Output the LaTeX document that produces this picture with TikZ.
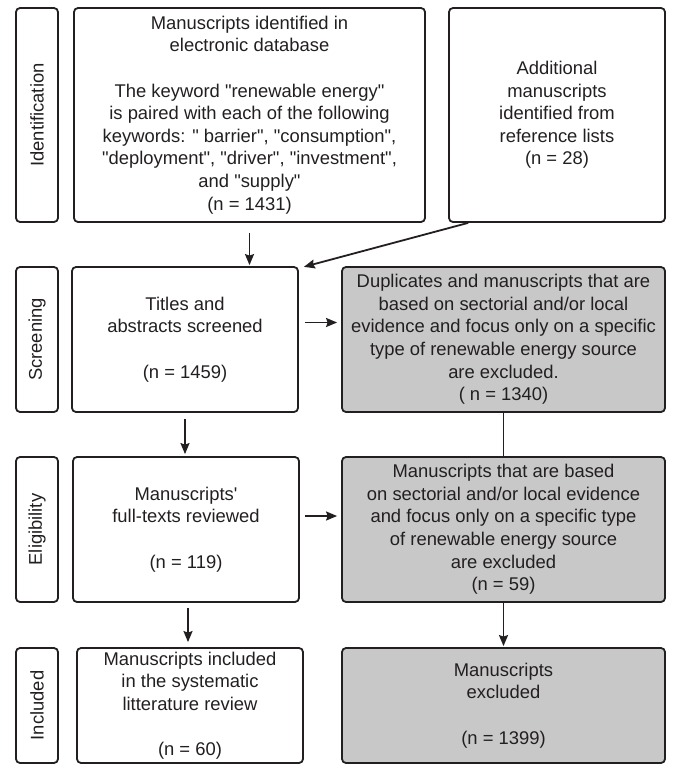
\documentclass[tikz,border=0pt]{standalone}
\usepackage{fontspec}
\setmainfont{Liberation Sans}
\usetikzlibrary{arrows.meta,calc}
\definecolor{exgray}{RGB}{200,200,200}
\definecolor{ink}{RGB}{35,31,32}
\newcommand{\qd}{\textquotedbl}
\begin{document}
\begin{tikzpicture}[x=1pt,y=-1pt,
  box/.style={draw=ink,line width=1.8pt,rounded corners=4pt,align=center,inner sep=2pt,
    font=\fontsize{18.4}{22.6}\selectfont,text=ink},
  exbox/.style={box,fill=exgray},
  lab/.style={draw=ink,line width=1.8pt,rounded corners=4pt,inner sep=0pt,
    font=\fontsize{18.4}{20}\selectfont,text=ink},
  arr/.style={draw=ink,line width=1.8pt,-{Stealth[length=11pt,width=9pt,inset=1.5pt]}},
  ln/.style={draw=ink,line width=1.8pt}]
\useasboundingbox (0,0) rectangle (673,766);
% phase labels
\node[lab,minimum width=42pt,minimum height=214pt] (lid) at (37,115) {\rotatebox{90}{Identification}};
\node[lab,minimum width=42pt,minimum height=145pt] (lsc) at (37,339.5) {\rotatebox{90}{Screening}};
\node[lab,minimum width=42pt,minimum height=145pt] (lel) at (37,529.5) {\rotatebox{90}{Eligibility}};
\node[lab,minimum width=42pt,minimum height=115pt] (lin) at (37,705.5) {\rotatebox{90}{Included}};
% boxes
\node[box,minimum width=351pt,minimum height=214pt] (db) at (249.5,115)
 {Manuscripts identified in\\ electronic database\\[22.6pt]
  The keyword \qd renewable energy\qd\\ is paired with each of the following\\
  keywords: \qd\ barrier\qd, \qd consumption\qd,\\ \qd deployment\qd, \qd driver\qd, \qd investment\qd,\\
  and \qd supply\qd\\ (n = 1431)};
\node[box,minimum width=216pt,minimum height=214pt] (add) at (557,115)
 {Additional\\ manuscripts\\ identified from\\ reference lists\\ (n = 28)};
\node[box,minimum width=226pt,minimum height=145pt] (titles) at (185,339.5)
 {Titles and\\ abstracts screened\\[22.6pt] (n = 1459)};
\node[exbox,minimum width=323pt,minimum height=145pt] (ex1) at (503.5,339.5)
 {Duplicates and manuscripts that are\\ based on sectorial and/or local\\
  evidence and focus only on a specific\\ type of renewable energy source\\
  are excluded.\\ ( n = 1340)};
\node[box,minimum width=226pt,minimum height=145pt] (full) at (186,529.5)
 {Manuscripts\textquotesingle\\ full-texts reviewed\\[22.6pt] (n = 119)};
\node[exbox,minimum width=323pt,minimum height=145pt] (ex2) at (503.5,529.5)
 {Manuscripts that are based\\ on sectorial and/or local evidence\\
  and focus only on a specific type\\ of renewable energy source\\
  are excluded\\ (n = 59)};
\node[box,minimum width=226pt,minimum height=115pt] (incl) at (190,705.5)
 {Manuscripts included\\ in the systematic\\ litterature review\\[22.6pt] (n = 60)};
\node[exbox,minimum width=323pt,minimum height=115pt] (ex3) at (503.5,705.5)
 {Manuscripts\\ excluded\\[22.6pt] (n = 1399)};
% connectors
\draw[arr,shorten <=10pt,shorten >=1pt] (db.south) -- (db.south |- titles.north);
\draw[arr,shorten >=1pt] ([xshift=20pt]add.south west) -- ([xshift=4pt,yshift=-1pt]titles.north east);
\draw[arr,shorten <=6pt,shorten >=4pt] ([yshift=17pt]titles.east) -- ([yshift=17pt]ex1.west);
\draw[ln] (ex1.south) -- (ex2.north);
\draw[arr,shorten <=6pt,shorten >=2pt] (titles.south) -- (titles.south |- full.north);
\draw[arr,shorten <=5pt,shorten >=4pt] ([yshift=13.5pt]full.east) -- ([yshift=13.5pt]ex2.west);
\draw[arr,shorten >=1pt] (ex2.south) -- (ex3.north);
\draw[arr,shorten <=5pt,shorten >=5pt] ([xshift=2pt]full.south) -- ([xshift=2pt]full.south |- incl.north);
\end{tikzpicture}
\end{document}
